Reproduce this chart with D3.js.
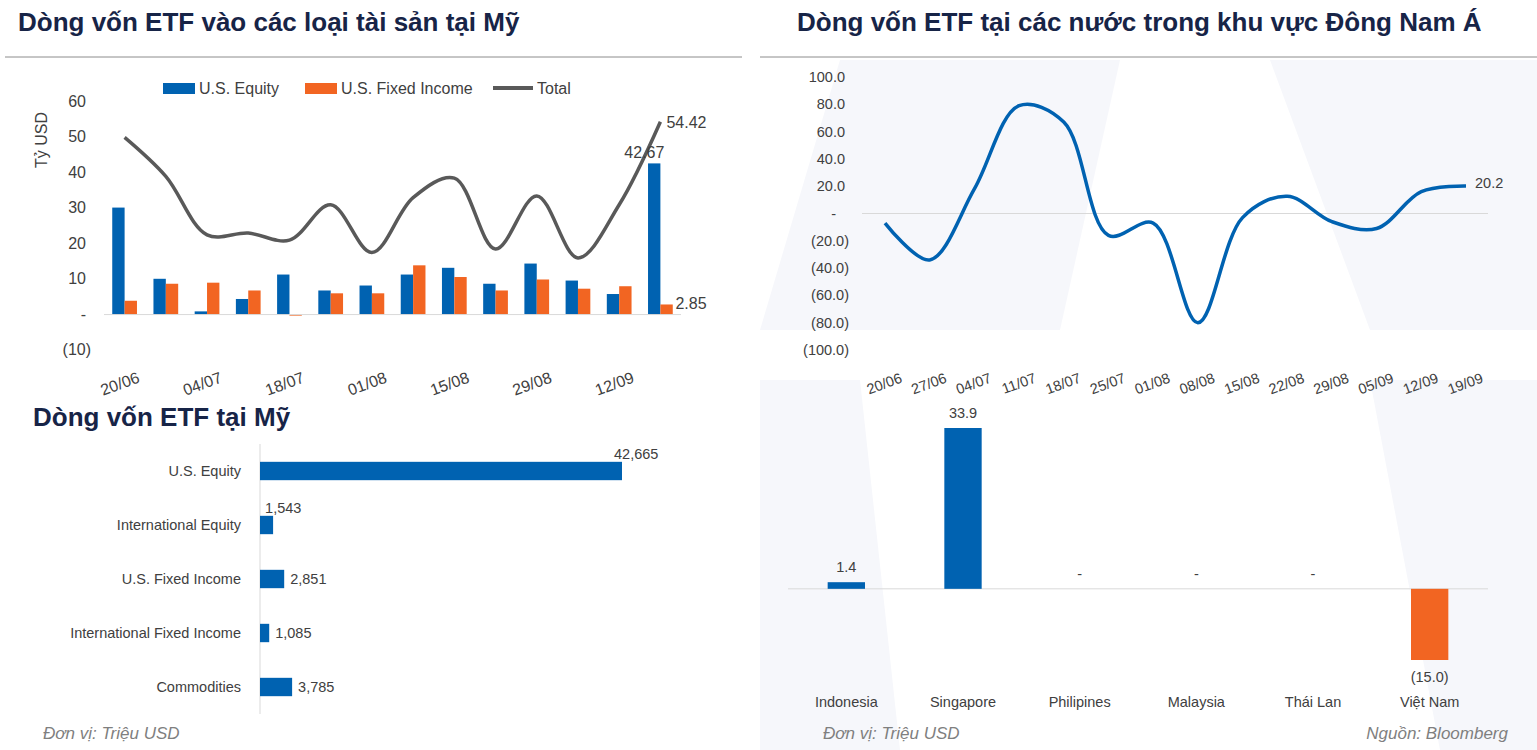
<!DOCTYPE html>
<html lang="vi">
<head>
<meta charset="UTF-8">
<title>Dòng vốn ETF</title>
<style>
  body { margin: 0; background: #fff; }
  svg { font-family: Arial, "Liberation Sans", sans-serif; }
  .title { font-size: 26px; font-weight: bold; fill: #172447; }
  .lbl { font-size: 16px; fill: #404040; }
  .sm { font-size: 14.5px; fill: #404040; }
  .foot { font-size: 17px; font-style: italic; fill: #7f7f7f; }
</style>
<script src="https://d3js.org/d3.v7.min.js"></script>
</head>
<body>
<script>
// ---- data ----
var weeksA = ["20/06","27/06","04/07","11/07","18/07","25/07","01/08","08/08","15/08","22/08","29/08","05/09","12/09","19/09"];
var equity = [30.2, 10.1, 0.9, 4.4, 11.3, 6.8, 8.2, 11.3, 13.2, 8.7, 14.4, 9.6, 5.8, 42.67];
var fixedInc = [3.9, 8.7, 9.0, 6.8, -0.3, 6.0, 6.0, 13.9, 10.6, 6.8, 9.9, 7.3, 8.0, 2.85];
var total = [50, 39, 22.5, 23, 21, 31, 17.5, 33, 38.5, 18.5, 33.5, 16, 31, 54.42];
var yTicksA = [-10, 0, 10, 20, 30, 40, 50, 60];

var weeksB = weeksA;
var seaFlow = [-7, -34, 18, 79, 67, -16, -7, -80, -3, 12.7, -6, -11, 16, 20.2];
var yTicksB = [-100, -80, -60, -40, -20, 0, 20, 40, 60, 80, 100];

var usCats = ["U.S. Equity","International Equity","U.S. Fixed Income","International Fixed Income","Commodities"];
var usVals = [42665, 1543, 2851, 1085, 3785];

var seaCats = ["Indonesia","Singapore","Philipines","Malaysia","Thái Lan","Việt Nam"];
var seaVals = [1.4, 33.9, 0, 0, 0, -15.0];

var blue = "#0062B1", orange = "#F26522", grey = "#595959";
var fmt = d3.format(",");
var par = function(v, dp){ if (v === 0) return "-"; var s = Math.abs(v).toFixed(dp); return v < 0 ? "(" + s + ")" : s; };

var svg = d3.select("body").append("svg").attr("width", 1537).attr("height", 750);

// watermark shapes
var wm = svg.append("g").attr("fill", "#f6f7fb");
wm.append("path").attr("d", "M760,330 L840,60 L1120,60 L1060,330 Z");
wm.append("path").attr("d", "M1270,60 L1537,60 L1537,330 L1370,330 Z");
wm.append("path").attr("d", "M760,750 L760,380 L860,380 L900,750 Z");
wm.append("path").attr("d", "M1370,380 L1537,380 L1537,750 L1440,750 Z");

// titles & rules
svg.append("text").attr("class", "title").attr("x", 18).attr("y", 31).text("Dòng vốn ETF vào các loại tài sản tại Mỹ");
svg.append("text").attr("class", "title").attr("x", 797).attr("y", 31).text("Dòng vốn ETF tại các nước trong khu vực Đông Nam Á");
svg.append("line").attr("x1", 5).attr("x2", 742).attr("y1", 57).attr("y2", 57).attr("stroke", "#8c8c8c");
svg.append("line").attr("x1", 760).attr("x2", 1537).attr("y1", 57).attr("y2", 57).attr("stroke", "#8c8c8c");
svg.append("text").attr("class", "title").attr("x", 33).attr("y", 426).text("Dòng vốn ETF tại Mỹ");

// ---- chart A ----
var xA = d3.scaleBand().domain(weeksA).range([104, 681]).paddingInner(0.4).paddingOuter(0.2);
var yA = d3.scaleLinear().domain([-10, 60]).range([350, 102]);
var gA = svg.append("g");
yTicksA.forEach(function(t){
  gA.append("text").attr("class", "lbl").attr("x", t < 0 ? 91 : 86).attr("y", yA(t) + 5).attr("text-anchor", "end").text(t === 0 ? "-" : par(t, 0));
});
gA.append("text").attr("class", "lbl").attr("transform", "translate(47,140) rotate(-90)").attr("text-anchor", "middle").text("Tỷ USD");
var bw = xA.bandwidth() / 2;
gA.selectAll(".eq").data(equity).enter().append("rect")
  .attr("x", function(d, i){ return xA(weeksA[i]); }).attr("width", bw)
  .attr("y", function(d){ return yA(Math.max(0, d)); }).attr("height", function(d){ return Math.abs(yA(d) - yA(0)); })
  .attr("fill", blue);
gA.selectAll(".fi").data(fixedInc).enter().append("rect")
  .attr("x", function(d, i){ return xA(weeksA[i]) + bw; }).attr("width", bw)
  .attr("y", function(d){ return yA(Math.max(0, d)); }).attr("height", function(d){ return Math.abs(yA(d) - yA(0)); })
  .attr("fill", orange);
gA.append("line").attr("x1", 104).attr("x2", 681).attr("y1", yA(0)).attr("y2", yA(0)).attr("stroke", "#d9d9d9");
var cx = function(i){ return xA(weeksA[i]) + xA.bandwidth() / 2; };
gA.append("path").datum(total)
  .attr("d", d3.line().x(function(d, i){ return cx(i); }).y(function(d){ return yA(d); }).curve(d3.curveCatmullRom.alpha(0.5)))
  .attr("fill", "none").attr("stroke", grey).attr("stroke-width", 3.5);
weeksA.forEach(function(w, i){
  if (i % 2) return;
  gA.append("text").attr("class", "lbl").attr("text-anchor", "end")
    .attr("transform", "translate(" + (cx(i) + 16) + ",382) rotate(-20)").text(w);
});
var n = weeksA.length - 1;
gA.append("text").attr("class", "lbl").attr("x", cx(n) + 6).attr("y", yA(total[n]) + 6).text(total[n].toFixed(2));
gA.append("text").attr("class", "lbl").attr("x", cx(n) + 4).attr("y", yA(equity[n]) - 5).attr("text-anchor", "end").text(equity[n].toFixed(2));
gA.append("text").attr("class", "lbl").attr("x", cx(n) + 15).attr("y", yA(fixedInc[n]) + 5).text(fixedInc[n].toFixed(2));
// legend
var leg = [{t: "U.S. Equity", c: blue, x: 163, l: 0}, {t: "U.S. Fixed Income", c: orange, x: 305, l: 0}, {t: "Total", c: grey, x: 493, l: 1}];
leg.forEach(function(d){
  if (d.l) gA.append("line").attr("x1", d.x).attr("x2", d.x + 40).attr("y1", 88).attr("y2", 88).attr("stroke", d.c).attr("stroke-width", 4);
  else gA.append("rect").attr("x", d.x).attr("y", 83).attr("width", 32).attr("height", 11).attr("fill", d.c);
  gA.append("text").attr("class", "lbl").attr("x", d.x + (d.l ? 44 : 36)).attr("y", 94).text(d.t);
});

// ---- chart B ----
var xB = d3.scalePoint().domain(weeksB).range([885, 1466]);
var yB = d3.scaleLinear().domain([-100, 100]).range([350, 77]);
var gB = svg.append("g");
yTicksB.forEach(function(t){
  gB.append("text").attr("class", "sm").attr("x", t < 0 ? 849 : (t === 0 ? 836 : 845)).attr("y", yB(t) + 5).attr("text-anchor", "end").text(t === 0 ? "-" : par(t, 1));
});
gB.append("line").attr("x1", 862).attr("x2", 1488).attr("y1", yB(0)).attr("y2", yB(0)).attr("stroke", "#d9d9d9");
gB.append("path").datum(seaFlow)
  .attr("d", d3.line().x(function(d, i){ return xB(weeksB[i]); }).y(function(d){ return yB(d); }).curve(d3.curveCatmullRom.alpha(0.5)))
  .attr("fill", "none").attr("stroke", blue).attr("stroke-width", 3.5);
weeksB.forEach(function(w){
  gB.append("text").attr("class", "sm").attr("text-anchor", "end")
    .attr("transform", "translate(" + (xB(w) + 18) + ",382) rotate(-20)").text(w);
});
gB.append("text").attr("class", "sm").attr("x", 1475).attr("y", yB(20.2) + 2).text("20.2");

// ---- chart C: US horizontal bars ----
var yC = d3.scaleBand().domain(usCats).range([444, 714]).paddingInner(0.66).paddingOuter(0.33);
var xC = d3.scaleLinear().domain([0, 42665]).range([260, 622]);
var gC = svg.append("g");
gC.append("line").attr("x1", 260).attr("x2", 260).attr("y1", 444).attr("y2", 714).attr("stroke", "#d9d9d9");
usCats.forEach(function(c, i){
  var y = yC(c), h = yC.bandwidth();
  gC.append("rect").attr("x", 260).attr("y", y).attr("width", xC(usVals[i]) - 260).attr("height", h).attr("fill", blue);
  gC.append("text").attr("class", "sm").attr("x", 241).attr("y", y + h / 2 + 5).attr("text-anchor", "end").text(c);
  var above = i < 2;
  gC.append("text").attr("class", "sm")
    .attr("x", above ? xC(usVals[i]) - 8 : xC(usVals[i]) + 6)
    .attr("y", above ? y - 3 : y + h / 2 + 5).text(fmt(usVals[i]));
});

// ---- chart D: SEA bars ----
var xD = d3.scaleBand().domain(seaCats).range([788, 1488]).paddingInner(0.68).paddingOuter(0.34);
var yD = d3.scaleLinear().domain([-15, 33.9]).range([660, 428]);
var gD = svg.append("g");
gD.append("line").attr("x1", 788).attr("x2", 1488).attr("y1", yD(0)).attr("y2", yD(0)).attr("stroke", "#d9d9d9");
seaCats.forEach(function(c, i){
  var v = seaVals[i], x = xD(c), w = xD.bandwidth();
  gD.append("rect").attr("x", x).attr("y", yD(Math.max(0, v))).attr("width", w).attr("height", Math.abs(yD(v) - yD(0)))
    .attr("fill", v < 0 ? orange : blue);
  gD.append("text").attr("class", "sm").attr("x", x + w / 2).attr("y", v < 0 ? yD(v) + 22 : yD(v) - 10).attr("text-anchor", "middle").text(par(v, 1));
  gD.append("text").attr("class", "sm").attr("x", x + w / 2).attr("y", 707).attr("text-anchor", "middle").text(c);
});

// footers
svg.append("text").attr("class", "foot").attr("x", 43).attr("y", 739).text("Đơn vị: Triệu USD");
svg.append("text").attr("class", "foot").attr("x", 823).attr("y", 739).text("Đơn vị: Triệu USD");
svg.append("text").attr("class", "foot").attr("x", 1508).attr("y", 739).attr("text-anchor", "end").text("Nguồn: Bloomberg");
</script>
</body>
</html>
